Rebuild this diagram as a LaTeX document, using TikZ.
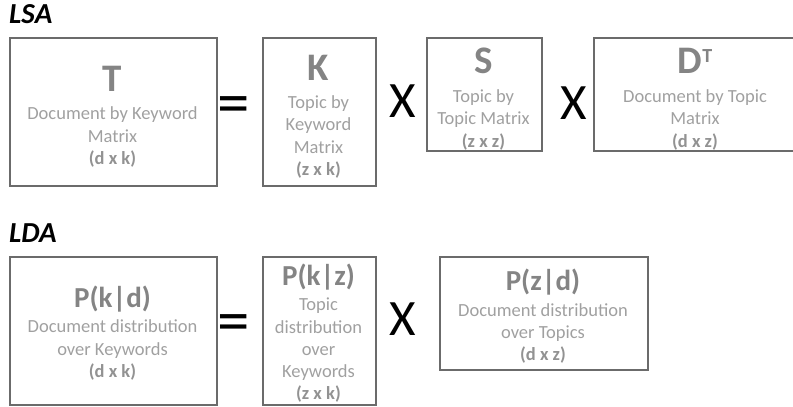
\documentclass[tikz,border=0pt]{standalone}
\usepackage{fontspec}
\setmainfont{Carlito}
\definecolor{boxgray}{HTML}{6B6B6B}
\definecolor{titlegray}{HTML}{848484}
\definecolor{textgray}{HTML}{A0A0A0}
\definecolor{dimgray}{HTML}{929292}
\begin{document}
\begin{tikzpicture}[x=1pt, y=-1pt,
	box/.style={draw=boxgray, line width=1.6pt, inner sep=0pt, anchor=north west},
	heading/.style={anchor=base west, inner sep=0pt, font=\fontsize{29}{29}\selectfont\bfseries\itshape},
	bigtitle/.style={anchor=base, text=titlegray, font=\fontsize{39}{39}\selectfont\bfseries},
	title/.style={anchor=base, text=titlegray, font=\fontsize{29}{29}\selectfont\bfseries},
	body/.style={anchor=base, text=textgray, inner sep=0pt, font=\fontsize{18.5}{22}\selectfont},
	dims/.style={anchor=base, text=dimgray, inner sep=0pt, font=\fontsize{18.5}{22}\selectfont\bfseries},
	op/.style={anchor=base, inner sep=0pt, font=\fontsize{51}{51}\selectfont},
	eqsign/.style={anchor=base, inner sep=0pt, font=\fontsize{65}{65}\selectfont}]
	\useasboundingbox (0,0) rectangle (793,407);
	\clip (0,0) rectangle (793,407);
	
	% LSA
	\node[heading] (lsa) at (9,23) {LSA};
	\node[box, minimum width=207pt, minimum height=148pt] (T) at (9,37) {};
	\node[box, minimum width=113pt, minimum height=148pt] (K) at (262,37) {};
	\node[box, minimum width=115pt, minimum height=113pt] (S) at (426,37) {};
	\node[box, minimum width=204pt, minimum height=113pt] (D) at (593,37) {};
	
	\node[bigtitle] (T-t) at (112.5,91) {T};
	\foreach \y/\txt [count=\i] in {119/Document by Keyword, 142/Matrix}
	\node[body] (T-\i) at (112.5,\y) {\txt};
	\node[dims] (T-d) at (112.5,164) {(d x k)};
	
	\node[bigtitle] (K-t) at (318.5,80) {K};
	\foreach \y/\txt [count=\i] in {108/Topic by, 130/Keyword, 153/Matrix}
	\node[body] (K-\i) at (318.5,\y) {\txt};
	\node[dims] (K-d) at (318.5,175) {(z x k)};
	
	\node[bigtitle] (S-t) at (483.5,73) {S};
	\foreach \y/\txt [count=\i] in {102/Topic by, 124/Topic Matrix}
	\node[body] (S-\i) at (483.5,\y) {\txt};
	\node[dims] (S-d) at (483.5,147) {(z x z)};
	
	\node[bigtitle] (D-t) at (695,73) {D\raisebox{11pt}{\fontsize{20}{20}\selectfont T}};
	\foreach \y/\txt [count=\i] in {102/Document by Topic, 124/Matrix}
	\node[body] (D-\i) at (695,\y) {\txt};
	\node[dims] (D-d) at (695,147) {(d x z)};
	
	\node[eqsign] (eq1) at (234,124.5) {=};
	\node[op] (x1) at (403,117.5) {X};
	\node[op] (x2) at (573.5,119) {X};
	
	% LDA
	\node[heading] (lda) at (9,242) {LDA};
	\node[box, minimum width=207pt, minimum height=148pt] (Pkd) at (9,256) {};
	\node[box, minimum width=113pt, minimum height=148pt] (Pkz) at (262,256) {};
	\node[box, minimum width=208pt, minimum height=113pt] (Pzd) at (439,256) {};
	
	\node[title] (Pkd-t) at (112.5,307) {P(k|d)};
	\foreach \y/\txt [count=\i] in {332/Document distribution, 355/over Keywords}
	\node[body] (Pkd-\i) at (112.5,\y) {\txt};
	\node[dims] (Pkd-d) at (112.5,377) {(d x k)};
	
	\node[title] (Pkz-t) at (318.5,285) {P(k|z)};
	\foreach \y/\txt [count=\i] in {310/Topic, 333/distribution, 355/over, 377/Keywords}
	\node[body] (Pkz-\i) at (318.5,\y) {\txt};
	\node[dims] (Pkz-d) at (318.5,399) {(z x k)};
	
	\node[title] (Pzd-t) at (543,290) {P(z|d)};
	\foreach \y/\txt [count=\i] in {316/Document distribution, 338/over Topics}
	\node[body] (Pzd-\i) at (543,\y) {\txt};
	\node[dims] (Pzd-d) at (543,360) {(d x z)};
	
	\node[eqsign] (eq2) at (234,342) {=};
	\node[op] (x3) at (403,335) {X};
\end{tikzpicture}
\end{document}
